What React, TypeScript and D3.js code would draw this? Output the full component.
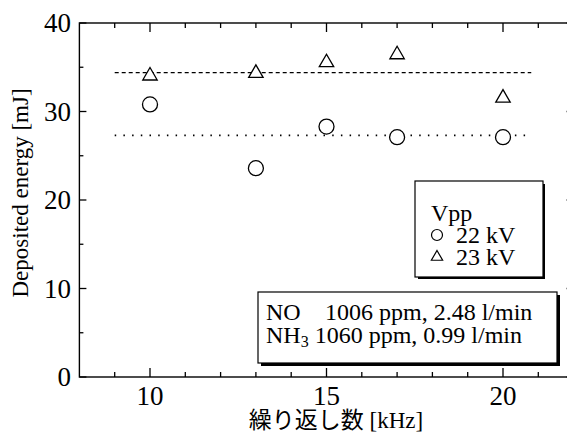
import React from 'react';
import * as d3 from 'd3';

// repetition frequency [kHz]
const freqs = [10, 13, 15, 17, 20];
// deposited energy [mJ]
const energy22kV = [30.8, 23.6, 28.3, 27.1, 27.1];
const energy23kV = [34.2, 34.5, 35.7, 36.6, 31.7];
// average lines
const mean22kV = 27.3;
const mean23kV = 34.4;
const meanRange = [9, 20.8];

const xMajor = [10, 15, 20];
const xMinor = d3.range(9, 22, 1);
const yMajor = [0, 10, 20, 30, 40];
const yMinor = d3.range(5, 40, 10);

const legendItems = ['22 kV', '23 kV'];

const W = 567;
const H = 436;
const serif = '"Liberation Serif", "Times New Roman", serif';

const App = () => {
  const x = d3.scaleLinear().domain([8, 22]).range([79.4, 573.6]);
  const y = d3.scaleLinear().domain([0, 40]).range([377, 23]);

  const tri = (s: number) => d3.symbol(d3.symbolTriangle, s)();
  const left = x.range()[0];
  const right = x.range()[1];
  const top = y.range()[1];
  const bottom = y.range()[0];

  return (
    <svg width={W} height={H} style={{ position: 'absolute', left: 0, top: 0, background: '#fff' }}>
      <rect width={W} height={H} fill="#fff" />

      {/* frame */}
      <rect x={left} y={top} width={right - left} height={bottom - top} fill="none" stroke="#000" strokeWidth={1.4} />

      {/* x ticks, top and bottom, inward */}
      {xMinor.map((v) => {
        const len = xMajor.includes(v) ? 9 : 5;
        return (
          <g key={'xt' + v} stroke="#000" strokeWidth={1.3}>
            <line x1={x(v)} x2={x(v)} y1={bottom} y2={bottom - len} />
            <line x1={x(v)} x2={x(v)} y1={top} y2={top + len} />
          </g>
        );
      })}
      {xMajor.map((v) => (
        <text key={'xl' + v} x={x(v)} y={405} textAnchor="middle" fontFamily={serif} fontSize={27}>
          {v}
        </text>
      ))}

      {/* y ticks, left and right, inward */}
      {yMajor.concat(yMinor).map((v) => {
        const len = yMajor.includes(v) ? 7 : 4;
        return (
          <g key={'yt' + v} stroke="#000" strokeWidth={1.3}>
            <line x1={left} x2={left + len} y1={y(v)} y2={y(v)} />
            <line x1={right} x2={right - len} y1={y(v)} y2={y(v)} />
          </g>
        );
      })}
      {yMajor.map((v) => (
        <text key={'yl' + v} x={71} y={y(v)} dy="0.34em" textAnchor="end" fontFamily={serif} fontSize={27}>
          {v}
        </text>
      ))}

      {/* axis titles */}
      <text transform={`translate(28,193) rotate(-90)`} textAnchor="middle" fontFamily={serif} fontSize={23}>
        Deposited energy [mJ]
      </text>
      <text x={336} y={428} textAnchor="middle" fontFamily={serif + ', "Noto Sans CJK JP"'} fontSize={23}>
        繰り返し数 [kHz]
      </text>

      {/* average lines */}
      <line
        x1={x(meanRange[0])}
        x2={x(meanRange[1])}
        y1={y(mean23kV)}
        y2={y(mean23kV)}
        stroke="#000"
        strokeWidth={1.3}
        strokeDasharray="4,3"
      />
      <line
        x1={x(meanRange[0])}
        x2={x(meanRange[1])}
        y1={y(mean22kV)}
        y2={y(mean22kV)}
        stroke="#000"
        strokeWidth={1.6}
        strokeDasharray="1.5,7.2"
      />

      {/* data */}
      {freqs.map((f, i) => (
        <circle key={'c' + f} cx={x(f)} cy={y(energy22kV[i])} r={7.5} fill="#fff" stroke="#000" strokeWidth={1.3} />
      ))}
      {freqs.map((f, i) => (
        <path
          key={'t' + f}
          d={tri(90) as string}
          transform={`translate(${x(f)},${y(energy23kV[i]) + 1.5})`}
          fill="#fff"
          stroke="#000"
          strokeWidth={1.3}
        />
      ))}

      {/* legend: Vpp */}
      <rect x={418} y={184} width={127} height={95} fill="#000" />
      <rect x={415} y={181} width={128} height={96} fill="#fff" stroke="#000" strokeWidth={1.2} />
      <text x={431} y={221} fontFamily={serif} fontSize={24}>
        Vpp
      </text>
      {legendItems.map((label, i) => (
        <g key={label}>
          {i === 0 ? (
            <circle cx={437} cy={235} r={5.5} fill="#fff" stroke="#000" strokeWidth={1.2} />
          ) : (
            <path d={tri(55) as string} transform="translate(437,257)" fill="#fff" stroke="#000" strokeWidth={1.2} />
          )}
          <text x={456} y={243 + i * 22} fontFamily={serif} fontSize={24}>
            {label}
          </text>
        </g>
      ))}

      {/* gas conditions box */}
      <rect x={261} y={295} width={299} height={71} fill="#000" />
      <rect x={258} y={292} width={299} height={71} fill="#fff" stroke="#000" strokeWidth={1.2} />
      <g fontFamily={serif} fontSize={24}>
        <text x={266} y={320}>NO</text>
        <text x={325} y={320}>1006 ppm, 2.48 l/min</text>
        <text x={266} y={343}>
          NH
          <tspan fontSize={16} dy={4}>3</tspan>
          <tspan dy={-4}> 1060 ppm, 0.99 l/min</tspan>
        </text>
      </g>
    </svg>
  );
};

export default App;
